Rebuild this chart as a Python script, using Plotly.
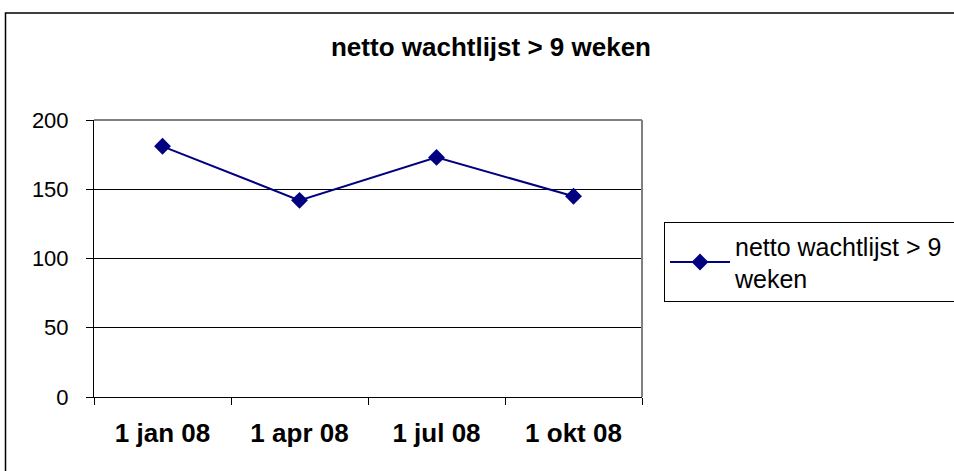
import plotly.graph_objects as go

categories = ["1 jan 08", "1 apr 08", "1 jul 08", "1 okt 08"]
values = [181, 142, 173, 145]
series_name = "netto wachtlijst > 9<br>weken"
title_text = "netto wachtlijst > 9 weken"
y_ticks = [0, 50, 100, 150, 200]

W, H = 954, 471
L, R, T, B = 94, 312, 120, 74
pw, ph = W - L - R, H - T - B

def px_x(p):
    return (p - L) / pw

def px_y(p):
    return (H - B - p) / ph

navy = "#000080"

fig = go.Figure()
fig.add_trace(go.Scatter(
    x=categories, y=values, mode="lines+markers", name=series_name,
    line=dict(color=navy, width=2),
    marker=dict(symbol="diamond", size=13, color=navy),
))

fig.update_layout(
    width=W, height=H,
    margin=dict(l=L, r=R, t=T, b=B, autoexpand=False),
    paper_bgcolor="white", plot_bgcolor="white",
    font=dict(family="Liberation Sans, Arial", color="black"),
    title=dict(text="<b>" + title_text + "</b>", x=491 / W, xanchor="center",
               y=1 - 47 / H, yanchor="middle", yref="container",
               font=dict(size=26, color="black")),
    showlegend=True,
    legend=dict(x=px_x(664), y=px_y(222), xanchor="left", yanchor="top",
                orientation="h", itemwidth=60,
                bordercolor="black", borderwidth=1, bgcolor="white",
                font=dict(size=25, color="black"),
                entrywidth=320, entrywidthmode="pixels"),
    xaxis=dict(type="category", tickson="boundaries", ticks="outside", ticklen=7,
               tickcolor="black", showline=True, linecolor="black", linewidth=1,
               showgrid=False, tickfont=dict(size=26, color="black"),
               ticktext=["<b>" + c + "</b>" for c in categories],
               tickvals=categories, ticklabelstandoff=13,
               range=[-0.5, len(categories) - 0.5], fixedrange=True),
    yaxis=dict(range=[0, 200], tickvals=y_ticks, ticks="outside", ticklen=7,
               tickcolor="black", showline=True, linecolor="black", linewidth=1,
               showgrid=True, gridcolor="black", gridwidth=1, zeroline=False,
               tickfont=dict(size=22, color="black"), ticklabelstandoff=13,
               fixedrange=True),
    shapes=[
        dict(type="line", xref="paper", yref="paper", x0=0, x1=1, y0=1, y1=1,
             line=dict(color="#808080", width=2), layer="above"),
        dict(type="line", xref="paper", yref="paper", x0=1, x1=1, y0=0, y1=1,
             line=dict(color="#808080", width=2), layer="above"),
        dict(type="rect", xref="paper", yref="paper",
             x0=px_x(5.5), x1=px_x(962), y0=px_y(478), y1=px_y(13),
             line=dict(color="black", width=1.5), layer="below"),
    ],
)

fig.write_html(
    "out.html",
    config={"displayModeBar": False, "staticPlot": True},
    post_script="document.body.style.margin='0';document.body.style.overflow='hidden';",
)
